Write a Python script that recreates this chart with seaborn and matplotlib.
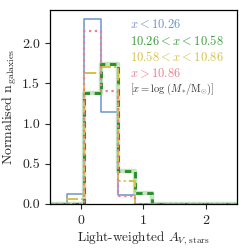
import numpy as np
import pandas as pd
import matplotlib
matplotlib.use("Agg")
import matplotlib.pyplot as plt
import seaborn as sns

# bin edges of the A_V histogram (11 bins from -0.5 to 2.5)
bin_edges = np.linspace(-0.5, 2.5, 12)
bin_centres = 0.5 * (bin_edges[:-1] + bin_edges[1:])

# normalised counts per bin
low_mass = [0.0, 0.12, 2.30, 1.14, 0.11, 0.0, 0.0, 0.0, 0.0, 0.0, 0.0]
mid_low_mass = [0.0, 0.0, 1.38, 1.74, 0.41, 0.13, 0.0, 0.0, 0.0, 0.0, 0.0]
mid_high_mass = [0.0, 0.06, 1.63, 1.71, 0.28, 0.0, 0.0, 0.0, 0.0, 0.0, 0.0]
high_mass = [0.0, 0.0, 2.15, 1.41, 0.10, 0.0, 0.0, 0.0, 0.0, 0.0, 0.0]

labels = [r"$x < 10.26$", r"$10.26 < x < 10.58$",
          r"$10.58 < x < 10.86$", r"$x > 10.86$"]
colours = ["#6b93cc", "#2a8f2a", "#d6c04a", "#f27a92"]
text_colours = ["#6b93cc", "#3c9c3c", "#d6c04a", "#f27a92"]

sns.set_style("ticks")
plt.rcParams["font.family"] = "serif"
plt.rcParams["font.serif"] = ["cmr10"]
plt.rcParams["mathtext.fontset"] = "cm"
plt.rcParams["axes.formatter.use_mathtext"] = True

fig = plt.figure(figsize=(2.49, 2.49), dpi=100)
ax = fig.add_axes([0.20, 0.181, 0.752, 0.779])


def step_hist(values, **kw):
    df = pd.DataFrame({"av": bin_centres, "n": values})
    sns.histplot(data=df, x="av", weights="n", bins=list(bin_edges),
                 element="step", fill=False, ax=ax, **kw)


step_hist(low_mass, color=colours[0], linewidth=1.1)
# green: light underlay + dark dashes
step_hist(mid_low_mass, color="#9ad49a", linewidth=3.2, alpha=0.6)
step_hist(mid_low_mass, color=colours[1], linewidth=2.1, linestyle=(0, (2.2, 1.6)))
step_hist(mid_high_mass, color=colours[2], linewidth=1.4, linestyle="-.")
step_hist(high_mass, color=colours[3], linewidth=1.6, linestyle=":")

for i, (lab, col) in enumerate(zip(labels, text_colours)):
    ax.text(0.43, 0.923 - i * 0.083, lab, color=col, fontsize=9,
            transform=ax.transAxes, va="center", ha="left")
ax.text(0.43, 0.923 - 4 * 0.083, r"$[x = \log\,(M_{*}/\mathrm{M}_{\odot})]$",
        color="#333333", fontsize=7.5, transform=ax.transAxes, va="center", ha="left")

ax.set_xlim(-0.5, 2.5)
ax.set_ylim(0, 2.415)
ax.set_xticks([0, 1, 2])
ax.set_yticks([0.0, 0.5, 1.0, 1.5, 2.0])
ax.set_yticklabels(["0.0", "0.5", "1.0", "1.5", "2.0"])
ax.tick_params(labelsize=10, length=3.5, width=0.8, direction="out")
for s in ax.spines.values():
    s.set_visible(True)
    s.set_linewidth(0.9)
    s.set_color("black")
ax.set_xlabel(r"Light-weighted $A_{V,\,\rm stars}$", fontsize=9.5, labelpad=2)
ax.set_ylabel(r"Normalised $\rm n_{galaxies}$", fontsize=10, labelpad=2)

fig.savefig("out.png", dpi=100)
